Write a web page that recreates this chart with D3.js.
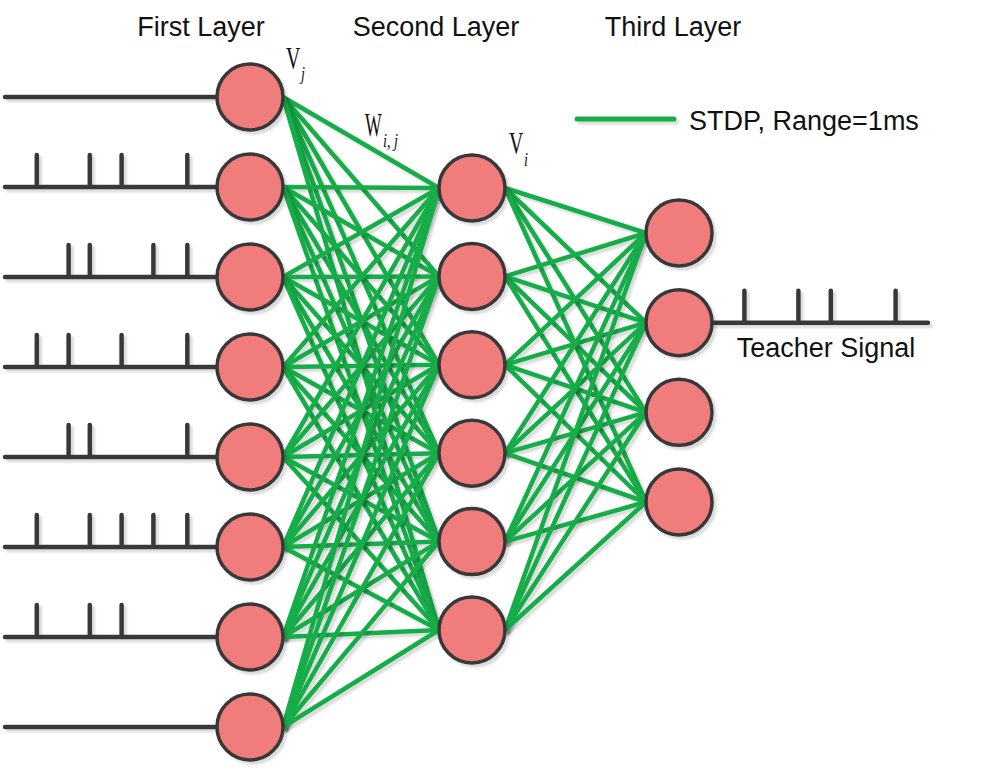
<!DOCTYPE html>
<html>
<head>
<meta charset="utf-8">
<script src="https://cdn.jsdelivr.net/npm/d3@7"></script>
<style>
  body { margin: 0; background: #fff; }
  svg { display: block; }
</style>
</head>
<body>
<svg width="992" height="770"></svg>
<script>
// spike times (0-100 time units) for each input neuron of the first layer
const inputSpikes = [
  [],
  [15, 40, 55, 86],
  [30, 40, 70, 86],
  [15, 30, 55, 86],
  [30, 40, 86],
  [15, 40, 55, 70, 86],
  [15, 40, 55],
  []
];
const layerSizes = [8, 6, 4];
const layerTitles = ["First Layer", "Second Layer", "Third Layer"];
const teacherSpikes = [15, 40, 55, 85];
const teacherNeuron = 1; // index in third layer
const legendLabel = "STDP, Range=1ms";
const teacherLabel = "Teacher Signal";

const svg = d3.select("svg");
const R = 33;
const green = "#17ad4a";
const dark = "#393939";
const nodeFill = "#f07d7c";

// soft grey shadow like the original drawing
svg.append("defs")
  .append("filter")
  .attr("id", "shadow")
  .attr("filterUnits", "userSpaceOnUse")
  .attr("x", 0).attr("y", 0)
  .attr("width", 992).attr("height", 770)
  .append("feDropShadow")
  .attr("dx", 3).attr("dy", 3)
  .attr("stdDeviation", 0.8)
  .attr("flood-color", "#000")
  .attr("flood-opacity", 0.14);

// layer positions
const xLayer = d3.scaleOrdinal().domain([0, 1, 2]).range([250, 472, 679]);
const yLayers = [
  d3.scalePoint().domain(d3.range(layerSizes[0])).range([97, 727]),
  d3.scalePoint().domain(d3.range(layerSizes[1])).range([188, 630]),
  d3.scalePoint().domain(d3.range(layerSizes[2])).range([233, 502])
];
const xTitle = d3.scaleOrdinal().domain(layerTitles).range([201, 436, 673]);

// time scales for spike trains
const xInput = d3.scaleLinear().domain([0, 100]).range([5, xLayer(0) - R]);
const xTeacher = d3.scaleLinear().domain([0, 100]).range([xLayer(2) + R, 928]);
const spikeH = 32;

// nodes
const nodes = layerSizes.map((n, l) =>
  d3.range(n).map(i => ({ layer: l, i, x: xLayer(l), y: yLayers[l](i) }))
);

// full connections between successive layers
const links = [];
for (let l = 0; l < nodes.length - 1; l++) {
  nodes[l].forEach(a => nodes[l + 1].forEach(b => links.push({ a, b })));
}

svg.append("g")
  .selectAll("line")
  .data(links)
  .join("line")
  .attr("x1", d => d.a.x + R)
  .attr("y1", d => d.a.y)
  .attr("x2", d => d.b.x - R)
  .attr("y2", d => d.b.y)
  .attr("stroke", green)
  .attr("stroke-width", 4.5)
  .attr("stroke-linecap", "round")
  .attr("filter", "url(#shadow)");

// spike train path: baseline with vertical spikes
function trainPath(times, x, y, x0, x1) {
  const p = d3.path();
  p.moveTo(x0, y);
  p.lineTo(x1, y);
  times.forEach(t => {
    p.moveTo(x(t), y);
    p.lineTo(x(t), y - spikeH);
  });
  return p.toString();
}

const trains = svg.append("g")
  .attr("fill", "none")
  .attr("stroke", dark)
  .attr("stroke-width", 4.5)
  .attr("stroke-linecap", "round");

trains.selectAll("path.input")
  .data(inputSpikes)
  .join("path")
  .attr("class", "input")
  .attr("filter", "url(#shadow)")
  .attr("d", (d, i) => trainPath(d, xInput, yLayers[0](i), xInput.range()[0], xInput.range()[1]));

trains.append("path")
  .attr("filter", "url(#shadow)")
  .attr("d", trainPath(teacherSpikes, xTeacher, yLayers[2](teacherNeuron),
    xTeacher.range()[0], xTeacher.range()[1]));

// neurons
svg.append("g")
  .selectAll("circle")
  .data(nodes.flat())
  .join("circle")
  .attr("cx", d => d.x)
  .attr("cy", d => d.y)
  .attr("r", R)
  .attr("fill", nodeFill)
  .attr("stroke", dark)
  .attr("stroke-width", 3.5)
  .attr("filter", "url(#shadow)");

// layer titles
svg.append("g")
  .selectAll("text")
  .data(layerTitles)
  .join("text")
  .attr("x", d => xTitle(d))
  .attr("y", 36)
  .attr("text-anchor", "middle")
  .attr("font-family", "Liberation Sans, Arial, sans-serif")
  .attr("font-size", 27)
  .attr("fill", "#111")
  .text(d => d);

// legend
const legend = svg.append("g");
legend.append("line")
  .attr("x1", 577).attr("x2", 674)
  .attr("y1", 119).attr("y2", 119)
  .attr("stroke", green)
  .attr("stroke-width", 5)
  .attr("stroke-linecap", "round")
  .attr("filter", "url(#shadow)");
legend.append("text")
  .attr("x", 689).attr("y", 130)
  .attr("font-family", "Liberation Sans, Arial, sans-serif")
  .attr("font-size", 27)
  .attr("fill", "#111")
  .text(legendLabel);

// teacher label
svg.append("text")
  .attr("x", 826).attr("y", 357)
  .attr("text-anchor", "middle")
  .attr("font-family", "Liberation Sans, Arial, sans-serif")
  .attr("font-size", 27)
  .attr("fill", "#111")
  .text(teacherLabel);

// math symbols (narrow serif)
function symbol(main, sub, x, y, size, sx, subDx, subDy) {
  const g = svg.append("g").attr("font-family", "Liberation Serif, Times New Roman, serif").attr("fill", "#111");
  g.append("text")
    .attr("transform", `translate(${x},${y}) scale(${sx},1)`)
    .attr("font-size", size)
    .text(main);
  g.append("text")
    .attr("transform", `translate(${x + subDx},${y + subDy}) scale(0.75,1)`)
    .attr("font-size", 19)
    .attr("font-style", "italic")
    .text(sub);
}
symbol("V", "j", 286, 69, 32, 0.62, 15, 11);
symbol("W", "i, j", 365, 136, 34, 0.52, 18, 11);
symbol("V", "i", 509, 154, 32, 0.62, 15, 12);
</script>
</body>
</html>
